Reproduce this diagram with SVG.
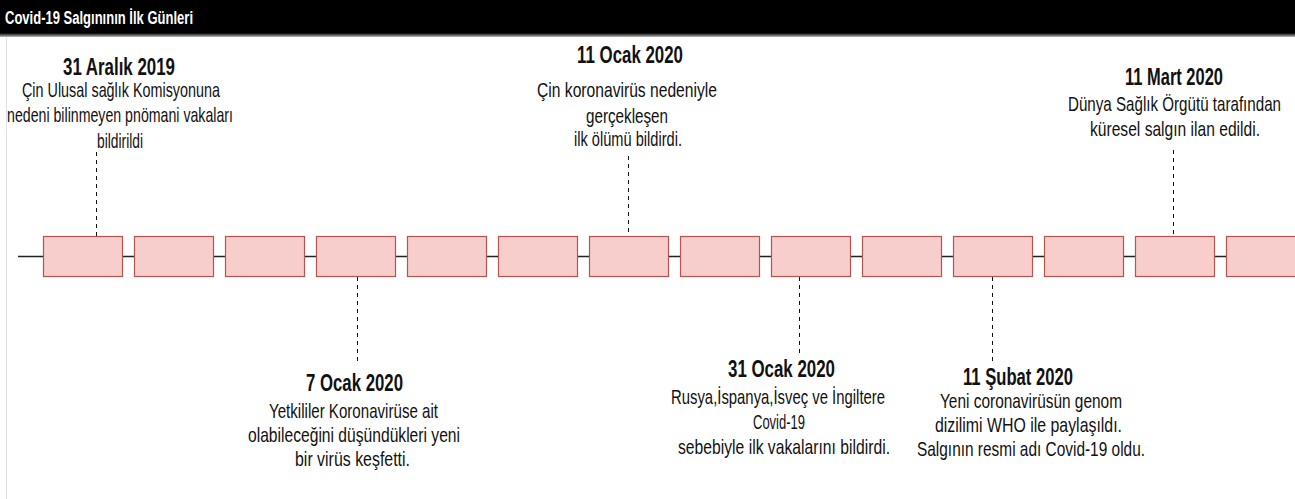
<svg xmlns="http://www.w3.org/2000/svg" width="1295" height="499" viewBox="0 0 1295 499">
<defs>
<linearGradient id="barEdge" x1="0" y1="0" x2="0" y2="1">
<stop offset="0" stop-color="#000"/>
<stop offset="1" stop-color="#bbb"/>
</linearGradient>
</defs>
<style>
.box{fill:#f8cecc;stroke:#b85450;stroke-width:1.2}
.tl{stroke:#222;stroke-width:1.6;fill:none}
.dash{stroke:#111;stroke-width:1;stroke-dasharray:4 4;fill:none}
.h{font-family:"Liberation Sans Narrow","Liberation Sans",Arial,sans-serif;font-weight:bold;font-size:23px;fill:#111}
.b{font-family:"Liberation Sans Narrow","Liberation Sans",Arial,sans-serif;font-size:21px;fill:#111}
.title{font-family:"Liberation Sans Narrow","Liberation Sans",Arial,sans-serif;font-weight:bold;font-size:18px;fill:#fff}
</style>
<rect x="0" y="0" width="1295" height="499" fill="#fff"/>
<g id="title-bar">
<rect x="0" y="0" width="1295" height="34" fill="#000"/>
<rect x="0" y="33" width="1295" height="4" fill="url(#barEdge)"/>
<text class="title" x="5" y="24" textLength="188" lengthAdjust="spacingAndGlyphs">Covid-19 Salgınının İlk Günleri</text>
</g>
<line x1="6.5" y1="37" x2="6.5" y2="499" stroke="#e2e2e2" stroke-width="1"/>
<g id="connectors">
<line class="tl" x1="18" y1="256.5" x2="1295" y2="256.5"/>
<line class="dash" x1="96.5" y1="152" x2="96.5" y2="236"/>
<line class="dash" x1="628.5" y1="156" x2="628.5" y2="236"/>
<line class="dash" x1="1173.5" y1="150" x2="1173.5" y2="236"/>
<line class="dash" x1="357.5" y1="277" x2="357.5" y2="362"/>
<line class="dash" x1="799.5" y1="277" x2="799.5" y2="356"/>
<line class="dash" x1="992.5" y1="277" x2="992.5" y2="362"/>
</g>
<g id="boxes">
<rect id="b1" class="box" x="43.5" y="236.5" width="79" height="40"/>
<rect id="b2" class="box" x="134.5" y="236.5" width="79" height="40"/>
<rect id="b3" class="box" x="225.5" y="236.5" width="79" height="40"/>
<rect id="b4" class="box" x="316.5" y="236.5" width="79" height="40"/>
<rect id="b5" class="box" x="407.5" y="236.5" width="79" height="40"/>
<rect id="b6" class="box" x="498.5" y="236.5" width="79" height="40"/>
<rect id="b7" class="box" x="589.5" y="236.5" width="79" height="40"/>
<rect id="b8" class="box" x="680.5" y="236.5" width="79" height="40"/>
<rect id="b9" class="box" x="771.5" y="236.5" width="79" height="40"/>
<rect id="b10" class="box" x="862.5" y="236.5" width="79" height="40"/>
<rect id="b11" class="box" x="953.5" y="236.5" width="79" height="40"/>
<rect id="b12" class="box" x="1044.5" y="236.5" width="79" height="40"/>
<rect id="b13" class="box" x="1135.5" y="236.5" width="79" height="40"/>
<rect id="b14" class="box" x="1226.5" y="236.5" width="79" height="40"/>
</g>
<g id="ev-31-aralik">
<text class="h" x="63" y="75" textLength="112" lengthAdjust="spacingAndGlyphs">31 Aralık 2019</text>
<text class="b" x="22" y="97" textLength="198" lengthAdjust="spacingAndGlyphs">Çin Ulusal sağlık Komisyonuna</text>
<text class="b" x="7" y="122" textLength="226" lengthAdjust="spacingAndGlyphs">nedeni bilinmeyen pnömani vakaları</text>
<text class="b" x="97" y="148" textLength="46" lengthAdjust="spacingAndGlyphs">bildirildi</text>
</g>
<g id="ev-11-ocak">
<text class="h" x="577" y="63" textLength="106" lengthAdjust="spacingAndGlyphs">11 Ocak 2020</text>
<text class="b" x="537" y="97" textLength="180" lengthAdjust="spacingAndGlyphs">Çin koronavirüs nedeniyle</text>
<text class="b" x="586" y="123" textLength="82" lengthAdjust="spacingAndGlyphs">gerçekleşen</text>
<text class="b" x="574" y="146" textLength="108" lengthAdjust="spacingAndGlyphs">ilk ölümü bildirdi.</text>
</g>
<g id="ev-11-mart">
<text class="h" x="1125" y="85" textLength="98" lengthAdjust="spacingAndGlyphs">11 Mart 2020</text>
<text class="b" x="1068" y="111" textLength="213" lengthAdjust="spacingAndGlyphs">Dünya Sağlık Örgütü tarafından</text>
<text class="b" x="1090" y="136" textLength="170" lengthAdjust="spacingAndGlyphs">küresel salgın ilan edildi.</text>
</g>
<g id="ev-7-ocak">
<text class="h" x="306" y="391" textLength="97" lengthAdjust="spacingAndGlyphs">7 Ocak 2020</text>
<text class="b" x="269" y="418" textLength="169" lengthAdjust="spacingAndGlyphs">Yetkililer Koronavirüse ait</text>
<text class="b" x="248" y="442" textLength="212" lengthAdjust="spacingAndGlyphs">olabileceğini düşündükleri yeni</text>
<text class="b" x="295" y="466" textLength="115" lengthAdjust="spacingAndGlyphs">bir virüs keşfetti.</text>
</g>
<g id="ev-31-ocak">
<text class="h" x="728" y="377" textLength="107" lengthAdjust="spacingAndGlyphs">31 Ocak 2020</text>
<text class="b" x="671" y="404" textLength="214" lengthAdjust="spacingAndGlyphs">Rusya,İspanya,İsveç ve İngiltere</text>
<text class="b" x="753" y="429" textLength="52" lengthAdjust="spacingAndGlyphs">Covid-19</text>
<text class="b" x="678" y="454" textLength="212" lengthAdjust="spacingAndGlyphs">sebebiyle ilk vakalarını bildirdi.</text>
</g>
<g id="ev-11-subat">
<text class="h" x="963" y="385" textLength="110" lengthAdjust="spacingAndGlyphs">11 Şubat 2020</text>
<text class="b" x="940" y="408" textLength="182" lengthAdjust="spacingAndGlyphs">Yeni coronavirüsün genom</text>
<text class="b" x="935" y="432" textLength="187" lengthAdjust="spacingAndGlyphs">dizilimi WHO ile paylaşıldı.</text>
<text class="b" x="917" y="456" textLength="228" lengthAdjust="spacingAndGlyphs">Salgının resmi adı Covid-19 oldu.</text>
</g>
</svg>
